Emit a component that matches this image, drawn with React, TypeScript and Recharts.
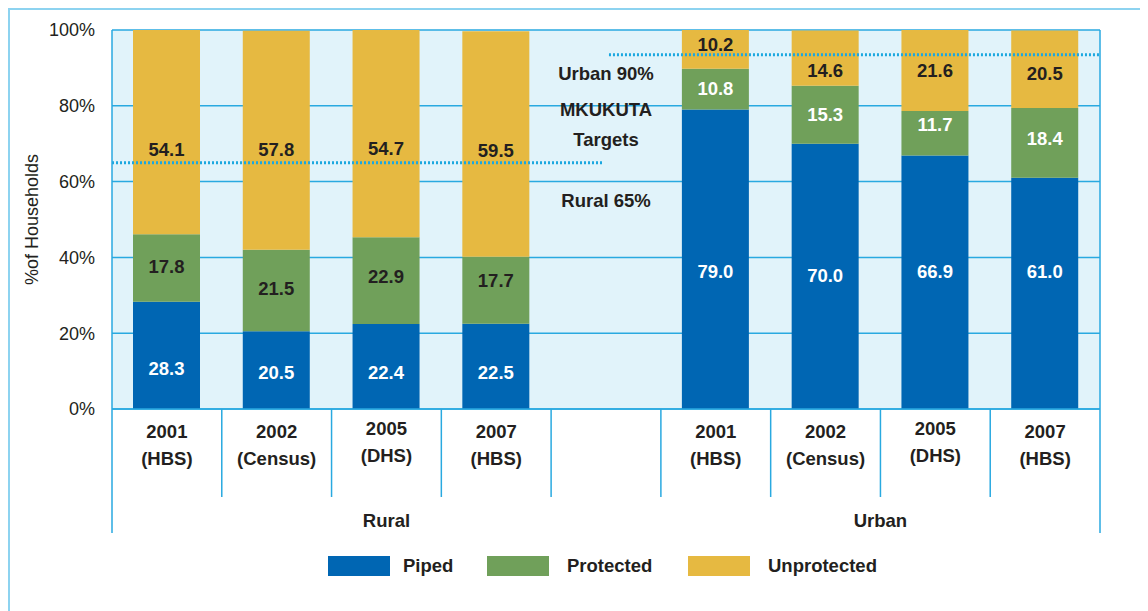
import React from 'react';
import {
  BarChart,
  Bar,
  XAxis,
  YAxis,
  CartesianGrid,
  ReferenceLine,
  ReferenceDot,
  LabelList,
  Label,
} from 'recharts';

// survey labels (empty slot separates rural from urban)
const years = ['2001', '2002', '2005', '2007', '', '2001', '2002', '2005', '2007'];
const sources = ['(HBS)', '(Census)', '(DHS)', '(HBS)', '', '(HBS)', '(Census)', '(DHS)', '(HBS)'];
const groups = ['Rural', 'Urban'];

const piped = [28.3, 20.5, 22.4, 22.5, null, 79.0, 70.0, 66.9, 61.0];
const protectedSrc = [17.8, 21.5, 22.9, 17.7, null, 10.8, 15.3, 11.7, 18.4];
const unprotected = [54.1, 57.8, 54.7, 59.5, null, 10.2, 14.6, 21.6, 20.5];

const yTicks = [0, 20, 40, 60, 80, 100];

// MKUKUTA targets (urban line sits a bit above 90 in the source picture)
const ruralTarget = 65;
const urbanTargetLine = 93.5;
const targetNotes = [
  { text: 'Urban 90%', y: 88.4 },
  { text: 'MKUKUTA', y: 78.9 },
  { text: 'Targets', y: 71.2 },
  { text: 'Rural 65%', y: 55.1 },
];

const legendItems = [
  { name: 'Piped', color: '#0066b3' },
  { name: 'Protected', color: '#70a05a' },
  { name: 'Unprotected', color: '#e6b941' },
];

// label nudges (px) so value labels sit where the original put them
const pipedDy = [13, 2, 6, 6, 0, 12, -1, -11, -22];
const protectedDy = [-2, -2, -4, -10, 0, -1, 0, -9, -4];
const unprotectedDy = [17, 9, 15, 7, 0, -5, 12, 0, 4];

const data = years.map((year, i) => ({
  key: `c${i}`,
  year,
  source: sources[i],
  piped: piped[i],
  protectedSrc: protectedSrc[i],
  unprotected: unprotected[i],
}));

// LabelList skips empty entries, so map its index back to the slot
const filled = years.map((_, i) => i).filter((i) => piped[i] != null);

const FONT = '"Liberation Sans", Arial, sans-serif';
const TEXT = '#231f20';
const BLUE = '#29a9e0';
const W = 1140;
const H = 603;
const M = { top: 22, right: 48, left: 0, bottom: 0 };
const Y_W = 104;
const X_H = H - M.top - M.bottom - 379;
const SLOT = (W - Y_W - M.right) / years.length;
const PLOT_TOP = M.top;
const AXIS_Y = H - M.bottom - X_H;

const CategoryTick = (props: any) => {
  const { x, index } = props;
  const left = x - SLOT / 2;
  const right = x + SLOT / 2;
  const last = index === years.length - 1;
  const lift = index === 2 || index === 7 ? -3 : 0;
  return (
    <g>
      <line x1={left} x2={left} y1={AXIS_Y} y2={AXIS_Y + (index === 0 ? 124 : 88)} stroke={BLUE} strokeWidth={1.5} />
      {last && <line x1={right} x2={right} y1={PLOT_TOP} y2={AXIS_Y + 124} stroke={BLUE} strokeWidth={1.5} />}
      <text x={x} y={AXIS_Y + 29 + lift} textAnchor="middle" fontFamily={FONT} fontSize={18.5} fontWeight="bold" fill={TEXT}>
        {years[index]}
      </text>
      <text x={x} y={AXIS_Y + 56 + lift} textAnchor="middle" fontFamily={FONT} fontSize={18.5} fontWeight="bold" fill={TEXT}>
        {sources[index]}
      </text>
      {index === 2 && (
        <text x={x} y={AXIS_Y + 118} textAnchor="middle" fontFamily={FONT} fontSize={18.5} fontWeight="bold" fill={TEXT}>
          {groups[0]}
        </text>
      )}
      {index === 7 && (
        <text x={left} y={AXIS_Y + 118} textAnchor="middle" fontFamily={FONT} fontSize={18.5} fontWeight="bold" fill={TEXT}>
          {groups[1]}
        </text>
      )}
    </g>
  );
};

const makeLabel = (color: (i: number) => string, dys: number[]) => (props: any) => {
  const { x, y, width, height, value, index } = props;
  if (value == null) return null;
  const slot = filled[index] ?? index;
  return (
    <text
      x={x + width / 2}
      y={y + height / 2 + dys[slot]}
      textAnchor="middle"
      dominantBaseline="central"
      fontFamily={FONT}
      fontSize={18.5}
      fontWeight="bold"
      fill={color(slot)}
    >
      {value.toFixed(1)}
    </text>
  );
};

const noteLabel = (text: string) => (props: any) => {
  const { viewBox } = props;
  const cx = viewBox.x + (viewBox.width || 0) / 2;
  const cy = viewBox.y + (viewBox.height || 0) / 2;
  return (
    <text x={cx} y={cy} textAnchor="middle" dominantBaseline="central" fontFamily={FONT} fontSize={18.5} fontWeight="bold" fill={TEXT}>
      {text}
    </text>
  );
};

export default function App() {
  return (
    <div
      style={{
        position: 'relative',
        width: W,
        height: H,
        borderTop: '2px solid #8dd3f0',
        borderLeft: '2px solid #8dd3f0',
        boxSizing: 'border-box',
        fontFamily: FONT,
      }}
    >
      <div style={{ position: 'absolute', left: -2, top: -2 }}>
        <BarChart width={W} height={H} data={data} margin={M} barSize={67}>
          <CartesianGrid vertical={false} stroke={BLUE} strokeWidth={1.5} fill="#e1f3fa" />
          <XAxis
            dataKey="key"
            height={X_H}
            interval={0}
            tickLine={false}
            tickSize={0}
            tickMargin={0}
            axisLine={{ stroke: BLUE, strokeWidth: 1.5 }}
            tick={<CategoryTick />}
          />
          {/* helper axis for the target lines: 0..8 spans the plot width */}
          <XAxis xAxisId="ref" type="number" domain={[0, 8]} allowDataOverflow hide />
          <YAxis
            width={Y_W}
            domain={[0, 100]}
            ticks={yTicks}
            allowDataOverflow
            tickLine={false}
            tickSize={0}
            tickMargin={17}
            tickFormatter={(v) => `${v}%`}
            axisLine={{ stroke: BLUE, strokeWidth: 1.5 }}
            tick={{ fill: TEXT, fontSize: 18, fontFamily: FONT }}
          >
            <Label
              value="%of Households"
              angle={-90}
              position="center"
              dx={-28}
              style={{ fill: TEXT, fontSize: 18, fontFamily: FONT }}
            />
          </YAxis>
          <Bar dataKey="piped" stackId="a" fill="#0066b3" isAnimationActive={false}>
            <LabelList dataKey="piped" content={makeLabel(() => '#ffffff', pipedDy)} />
          </Bar>
          <Bar dataKey="protectedSrc" stackId="a" fill="#70a05a" isAnimationActive={false}>
            <LabelList dataKey="protectedSrc" content={makeLabel((i) => (i < 4 ? TEXT : '#ffffff'), protectedDy)} />
          </Bar>
          <Bar dataKey="unprotected" stackId="a" fill="#e6b941" isAnimationActive={false}>
            <LabelList dataKey="unprotected" content={makeLabel(() => TEXT, unprotectedDy)} />
          </Bar>
          <ReferenceLine
            xAxisId="ref"
            segment={[{ x: 0, y: ruralTarget }, { x: 3.976, y: ruralTarget }]}
            stroke="#1aa7e0"
            strokeWidth={3}
            strokeDasharray="2 2"
          />
          <ReferenceLine
            xAxisId="ref"
            segment={[{ x: 4.024, y: urbanTargetLine }, { x: 8, y: urbanTargetLine }]}
            stroke="#1aa7e0"
            strokeWidth={3}
            strokeDasharray="2 2"
          />
          {targetNotes.map((n) => (
            <ReferenceDot
              key={n.text}
              xAxisId="ref"
              x={4}
              y={n.y}
              r={0}
              fill="none"
              stroke="none"
              label={noteLabel(n.text)}
            />
          ))}
        </BarChart>
      </div>
      {legendItems.map((item, i) => {
        const boxLeft = [318, 477, 678][i];
        const textLeft = [393, 557, 758][i];
        return (
          <React.Fragment key={item.name}>
            <div
              style={{
                position: 'absolute',
                left: boxLeft,
                top: 546,
                width: 62,
                height: 20,
                background: item.color,
              }}
            />
            <div
              style={{
                position: 'absolute',
                left: textLeft,
                top: 545,
                fontSize: 18.5,
                fontWeight: 'bold',
                color: TEXT,
                lineHeight: '22px',
              }}
            >
              {item.name}
            </div>
          </React.Fragment>
        );
      })}
    </div>
  );
}
